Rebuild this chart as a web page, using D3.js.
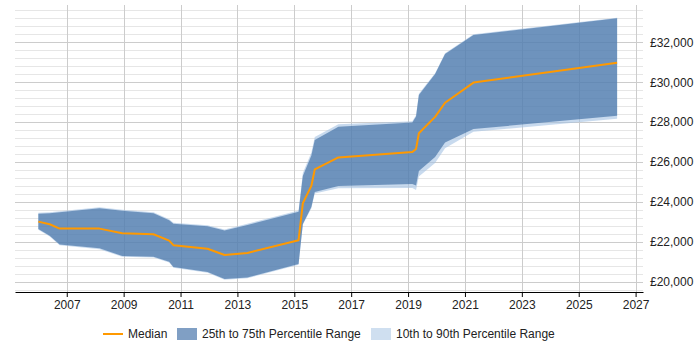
<!DOCTYPE html>
<html>
<head>
<meta charset="utf-8">
<script src="https://cdn.jsdelivr.net/npm/d3@7/dist/d3.min.js"></script>
<style>
  body { margin: 0; background: #fff; }
  svg text { font-family: "Liberation Sans", Arial, sans-serif; font-size: 12px; fill: #222; }
</style>
</head>
<body>
<div id="chart"></div>
<script>
// decimal years of each sample
const dates = [2006.0, 2006.4, 2006.75, 2008.15, 2008.95, 2010.05, 2010.6, 2010.75, 2011.95, 2012.55,
  2013.35, 2015.15, 2015.3, 2015.6, 2015.72, 2016.55, 2019.15, 2019.28, 2019.38, 2019.95,
  2020.3, 2021.3, 2026.35];
const median = [23010, 22880, 22660, 22660, 22430, 22380, 22060, 21830, 21650, 21340,
  21440, 22080, 23930, 24800, 25630, 26230, 26500, 26650, 27440, 28260,
  28970, 29980, 30980];
const p25 = [22640, 22300, 21870, 21670, 21290, 21250, 21000, 20740, 20490, 20140,
  20210, 20890, 22890, 23740, 24500, 24800, 24900, 24820, 25550, 26250,
  26980, 27650, 28320];
const p75 = [23410, 23430, 23480, 23680, 23560, 23430, 23080, 22910, 22780, 22560,
  22840, 23510, 25300, 26330, 27100, 27770, 27980, 28280, 29360, 30410,
  31410, 32370, 33200];
const p10 = [22600, 22260, 21830, 21630, 21250, 21210, 20960, 20700, 20450, 20100,
  20170, 20850, 22850, 23680, 24420, 24680, 24700, 24600, 25270, 25950,
  26690, 27510, 28170];
const p90 = [23460, 23480, 23530, 23730, 23610, 23480, 23130, 22960, 22830, 22610,
  22900, 23570, 25450, 26480, 27250, 27890, 28040, 28340, 29420, 30450,
  31450, 32410, 33230];
const yearTicks = [2007, 2009, 2011, 2013, 2015, 2017, 2019, 2021, 2023, 2025, 2027];
const salaryTicks = [20000, 22000, 24000, 26000, 28000, 30000, 32000];
const legendLabels = ['Median', '25th to 75th Percentile Range', '10th to 90th Percentile Range'];

const width = 700;
const height = 350;
const plot = { left: 15, right: 643, top: 5, bottom: 292 };

const xScale = d3.scaleLinear().domain([2005.18, 2027.26]).range([plot.left, plot.right]);
const yScale = d3.scaleLinear().domain([19483, 33870]).range([plot.bottom, plot.top]);

const rows = dates.map((d, i) => ({
  date: d, median: median[i], p10: p10[i], p25: p25[i], p75: p75[i], p90: p90[i]
}));

const svg = d3.select('#chart').append('svg')
  .attr('width', width)
  .attr('height', height);

// horizontal grid: minor every 400, major every 2000
const minorTicks = d3.range(19600, 33601, 400).filter(v => v % 2000 !== 0);
svg.append('g').selectAll('line').data(minorTicks).enter().append('line')
  .attr('x1', plot.left).attr('x2', plot.right)
  .attr('y1', d => Math.round(yScale(d)) + 0.5).attr('y2', d => Math.round(yScale(d)) + 0.5)
  .attr('stroke', '#e6e6e6');
svg.append('g').selectAll('line').data(salaryTicks).enter().append('line')
  .attr('x1', plot.left).attr('x2', plot.right)
  .attr('y1', d => Math.round(yScale(d)) + 0.5).attr('y2', d => Math.round(yScale(d)) + 0.5)
  .attr('stroke', '#cccccc');
svg.append('g').selectAll('line').data(yearTicks).enter().append('line')
  .attr('x1', d => Math.round(xScale(d)) + 0.5).attr('x2', d => Math.round(xScale(d)) + 0.5)
  .attr('y1', plot.top).attr('y2', plot.bottom)
  .attr('stroke', '#cccccc');

// bands
const area = (lo, hi) => d3.area()
  .x(d => xScale(d.date))
  .y0(d => yScale(d[lo]))
  .y1(d => yScale(d[hi]));

svg.append('path')
  .attr('d', area('p10', 'p90')(rows))
  .attr('fill', 'rgb(163,193,227)')
  .attr('fill-opacity', 0.6);

svg.append('path')
  .attr('d', area('p25', 'p75')(rows))
  .attr('fill', 'rgb(50,100,156)')
  .attr('fill-opacity', 0.6);

// median
svg.append('path')
  .attr('d', d3.line().x(d => xScale(d.date)).y(d => yScale(d.median))(rows))
  .attr('fill', 'none')
  .attr('stroke', '#ff9900')
  .attr('stroke-width', 2)
  .attr('stroke-linejoin', 'round');

// axes
const xAxis = svg.append('g')
  .attr('transform', 'translate(0,' + plot.bottom + ')')
  .call(d3.axisBottom(xScale).tickValues(yearTicks).tickFormat(d3.format('d'))
    .tickSize(5).tickSizeOuter(0).tickPadding(3));
xAxis.select('.domain').attr('stroke', '#000');
xAxis.selectAll('.tick line').attr('stroke', '#000');
xAxis.selectAll('text').attr('font-size', null).attr('font-family', null);
xAxis.attr('font-size', null).attr('font-family', null);

const yAxis = svg.append('g')
  .attr('transform', 'translate(' + plot.right + ',0)')
  .call(d3.axisRight(yScale).tickValues(salaryTicks)
    .tickFormat(d => '£' + d3.format(',')(d)).tickSize(0).tickPadding(7));
yAxis.select('.domain').remove();
yAxis.attr('font-size', null).attr('font-family', null);

// legend
const legend = svg.append('g').attr('transform', 'translate(0,334)');
legend.append('line')
  .attr('x1', 103).attr('x2', 123).attr('y1', 0).attr('y2', 0)
  .attr('stroke', '#ff9900').attr('stroke-width', 2);
legend.append('text').attr('x', 128).attr('y', 4).text(legendLabels[0]);
legend.append('rect')
  .attr('x', 177).attr('y', -6).attr('width', 20).attr('height', 12)
  .attr('fill', '#809fc4');
legend.append('text').attr('x', 202).attr('y', 4).text(legendLabels[1]);
legend.append('rect')
  .attr('x', 371).attr('y', -6).attr('width', 20).attr('height', 12)
  .attr('fill', '#cfdff0');
legend.append('text').attr('x', 396).attr('y', 4).text(legendLabels[2]);
</script>
</body>
</html>
